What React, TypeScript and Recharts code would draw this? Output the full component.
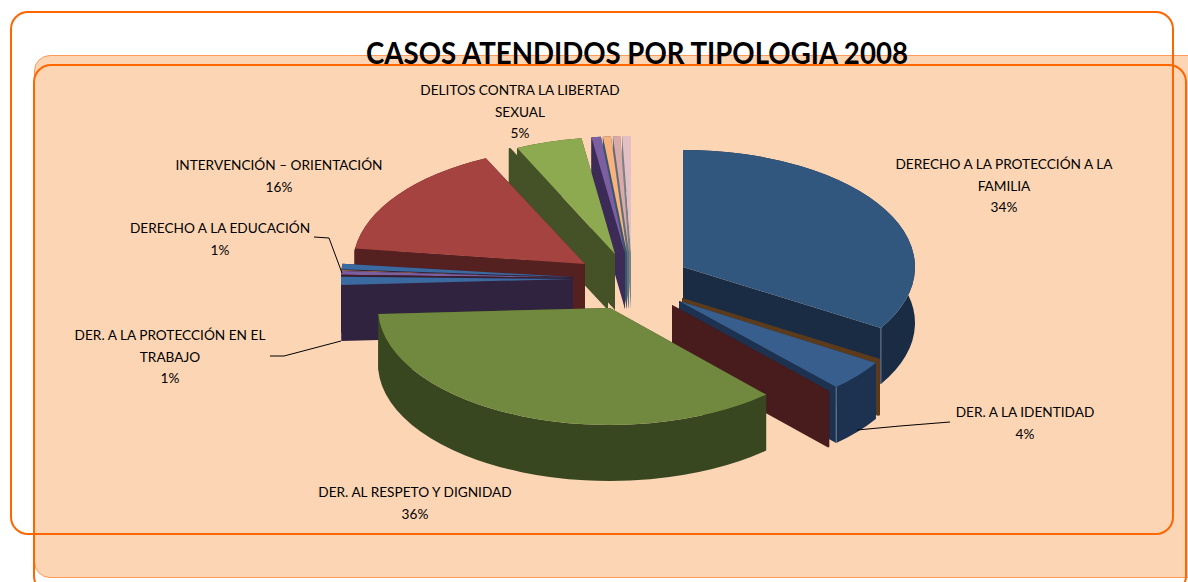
import React from "react";
import { PieChart, Pie } from "recharts";

// ---- data (percent shares, clockwise from 12 o'clock) ----
const categories = [
  "DERECHO A LA PROTECCIÓN A LA FAMILIA",
  "Otro A",
  "DER. A LA IDENTIDAD",
  "Otro B",
  "DER. AL RESPETO Y DIGNIDAD",
  "DER. A LA PROTECCIÓN EN EL TRABAJO",
  "Otro C",
  "Otro D",
  "Otro E",
  "DERECHO A LA EDUCACIÓN",
  "Otro F",
  "INTERVENCIÓN – ORIENTACIÓN",
  "Otro G",
  "DELITOS CONTRA LA LIBERTAD SEXUAL",
  "Otro H",
  "Otro I",
  "Otro J",
  "Otro K",
];
const shares = [33.6, 0.15, 4.25, 0.1, 35.8, 1.1, 0.15, 0.5, 0.1, 0.75, 0.3, 15.8, 0.1, 4.6, 0.65, 0.55, 0.5, 0.6];

const titleText = "CASOS ATENDIDOS POR TIPOLOGIA 2008";

// label text per slice index, with its percentage
const labelTexts: Record<number, string[]> = {
  0: ["DERECHO A LA PROTECCIÓN A LA", "FAMILIA", "34%"],
  2: ["DER. A LA IDENTIDAD", "4%"],
  4: ["DER. AL RESPETO Y DIGNIDAD", "36%"],
  5: ["DER. A LA PROTECCIÓN EN EL", "TRABAJO", "1%"],
  9: ["DERECHO A LA EDUCACIÓN", "1%"],
  11: ["INTERVENCIÓN – ORIENTACIÓN", "16%"],
  13: ["DELITOS CONTRA LA LIBERTAD", "SEXUAL", "5%"],
};

// ---- layout and style ----
const W = 1188;
const H = 582;
const CX = 600;
const CY = 280;
const RADIUS = 232;
const TILT = 117 / 232;
const DEPTH = 56;

// where each exploded slice's apex sits
const apexes: [number, number][] = [
  [683, 267], [682, 298], [679, 301], [672, 305], [610, 308],
  [573, 279], [573, 278], [573, 278], [573, 278], [573, 277],
  [585, 264], [585, 264], [608, 254], [615, 254],
  [625, 253], [627, 253], [629, 253], [631, 253],
];
const topColors = [
  "#31577F", "#5C3A1C", "#375E8D", "#481C1C", "#71893F", "#3B6AA0", "#481C1C", "#7B5FA1", "#D98A3C",
  "#3B6AA0", "#552020", "#A54341", "#455228", "#8DAA51", "#7B5FA1", "#F9B27B", "#D9AAA8", "#E2C0C3",
];
const wallColors = [
  "#1A2B44", "#5C3A1C", "#1C3250", "#481C1C", "#384720", "#30233F", "#30233F", "#30233F", "#30233F",
  "#30233F", "#552020", "#552020", "#455228", "#455228", "#3C2B56", "#35596B", "#5E6E7A", "#7A8088",
];
// back to front
const paintOrder = [17, 16, 15, 14, 12, 13, 10, 11, 9, 8, 7, 6, 5, 0, 1, 2, 3, 4];
// slices whose outer end edge shows a thin light line
const edgeHighlights: Record<number, string> = { 0: "#6E7F94", 2: "#6E7F94" };

// label anchors: centre x, first line's centre y
const labelAnchors: Record<number, [number, number]> = {
  0: [1004, 164],
  2: [1025, 412],
  4: [415, 492],
  5: [170, 335],
  9: [220, 228],
  11: [279, 165],
  13: [520, 90],
};
const LINE_STEP = 21.5;
const leaderLines: Record<number, string> = {
  2: "M950 422 L900 426 L857 430",
  5: "M270 356 L284 356 L341 341",
  9: "M314 237 L329 238 L342 273",
};

const FONT = "Lato, 'Noto Sans', sans-serif";
const slices = categories.map((name, i) => ({ name, value: shares[i] }));

function makeShape(target: number) {
  return (props: any) => {
    const { startAngle, endAngle, index, outerRadius } = props;
    const idx = index ?? slices.findIndex((s) => s.name === props.name);
    if (idx !== target) return <g />;
    const [ax, ay] = apexes[idx];
    const a = outerRadius;
    const b = outerRadius * TILT;
    const rad = Math.PI / 180;
    const x0 = ax + a * Math.cos(startAngle * rad);
    const y0 = ay - b * Math.sin(startAngle * rad);
    const x1 = ax + a * Math.cos(endAngle * rad);
    const y1 = ay - b * Math.sin(endAngle * rad);
    const large = Math.abs(startAngle - endAngle) > 180 ? 1 : 0;
    const top = `M${ax} ${ay} L${x0} ${y0} A${a} ${b} 0 ${large} 1 ${x1} ${y1} Z`;
    const rim = `M${x0} ${y0} A${a} ${b} 0 ${large} 1 ${x1} ${y1} L${x1} ${y1 + DEPTH} A${a} ${b} 0 ${large} 0 ${x0} ${y0 + DEPTH} Z`;
    const wallA = `M${ax} ${ay} L${x0} ${y0} L${x0} ${y0 + DEPTH} L${ax} ${ay + DEPTH} Z`;
    const wallB = `M${ax} ${ay} L${x1} ${y1} L${x1} ${y1 + DEPTH} L${ax} ${ay + DEPTH} Z`;
    const wall = wallColors[idx];
    return (
      <g>
        <path d={wallA} fill={wall} />
        <path d={wallB} fill={wall} />
        <path d={rim} fill={wall} />
        <path d={top} fill={topColors[idx]} />
        {edgeHighlights[idx] && (
          <path d={`M${x1} ${y1} L${x1} ${y1 + DEPTH}`} stroke={edgeHighlights[idx]} strokeWidth={1} fill="none" />
        )}
      </g>
    );
  };
}

function renderLabel(props: any) {
  const idx = props.index;
  const lines = labelTexts[idx];
  if (!lines) return <g />;
  const [x, y] = labelAnchors[idx];
  return (
    <g>
      {leaderLines[idx] && <path d={leaderLines[idx]} fill="none" stroke="#000" strokeWidth={1} />}
      {lines.map((t, k) => (
        <text
          key={k}
          x={x}
          y={y + k * LINE_STEP}
          textAnchor="middle"
          dominantBaseline="central"
          fontFamily={FONT}
          fontSize={13.65}
          fill="#000"
        >
          {t}
        </text>
      ))}
    </g>
  );
}

const hidden = () => <g />;

export default function App() {
  return (
    <div style={{ position: "absolute", left: 0, top: 0, width: W, height: H, overflow: "hidden", background: "#fff" }}>
      <div style={{ position: "absolute", left: 34, top: 54.5, width: 1170, height: 523, boxSizing: "border-box", background: "#FCD5B5", border: "1.5px solid #FF9A5A", borderRadius: 16 }} />
      <svg width={W} height={H} style={{ position: "absolute", left: 0, top: 0 }}>
        <text x={637} y={64} textAnchor="middle" fontFamily={FONT} fontWeight={700} fontSize={30} textLength={542} lengthAdjust="spacingAndGlyphs" fill="#000">
          {titleText}
        </text>
      </svg>
      <div style={{ position: "absolute", left: 0, top: 0 }}>
        <PieChart width={W} height={H} margin={{ top: 0, right: 0, bottom: 0, left: 0 }}>
          {paintOrder.map((i) => (
            <Pie
              key={i}
              data={slices}
              dataKey="value"
              nameKey="name"
              cx={CX}
              cy={CY}
              innerRadius={0}
              outerRadius={RADIUS}
              startAngle={90}
              endAngle={-270}
              stroke="none"
              shape={makeShape(i)}
              isAnimationActive={false}
              legendType="none"
            />
          ))}
          <Pie
            data={slices}
            dataKey="value"
            nameKey="name"
            cx={CX}
            cy={CY}
            outerRadius={RADIUS}
            startAngle={90}
            endAngle={-270}
            stroke="none"
            shape={hidden}
            label={renderLabel}
            labelLine={false}
            isAnimationActive={false}
            legendType="none"
          />
        </PieChart>
      </div>
      <div style={{ position: "absolute", left: 9.5, top: 11, width: 1164.5, height: 524, boxSizing: "border-box", border: "2.5px solid #FF6600", borderRadius: 18 }} />
      <div style={{ position: "absolute", left: 33, top: 63.5, width: 1154, height: 530, boxSizing: "border-box", border: "2.5px solid #FF6600", borderRadius: 18 }} />
    </div>
  );
}
